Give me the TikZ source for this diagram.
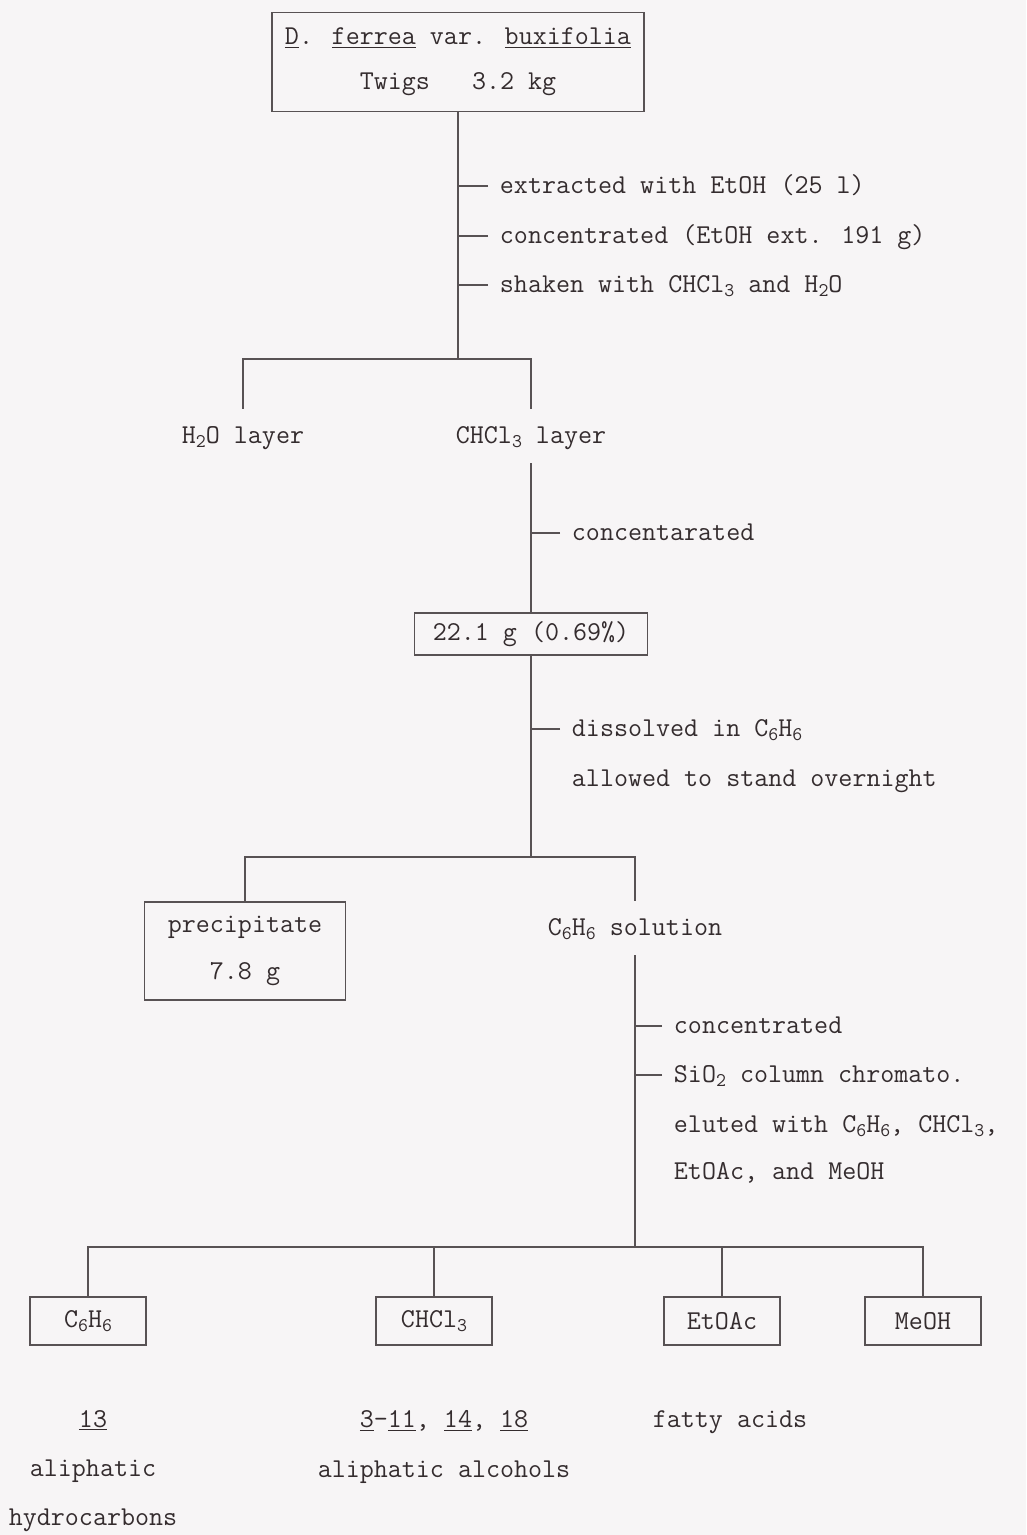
\documentclass[tikz,border=0pt]{standalone}
\usepackage{fontspec}
\usetikzlibrary{calc,positioning}
\definecolor{FlowInk}{RGB}{52,44,46}
\definecolor{FlowLine}{RGB}{88,82,84}
\definecolor{FlowPaper}{RGB}{247,245,246}
\newcommand{\chemsub}[1]{\raisebox{-0.35ex}{\fontsize{11}{11}\selectfont #1}}

\begin{document}
\begin{tikzpicture}[x=0.2mm, y=-0.2mm,
    every node/.style={font=\ttfamily\fontsize{15.5}{18}\selectfont, text=FlowInk},
    line/.style={draw=FlowLine, line width=0.8pt},
    box/.style={line, inner sep=0pt, align=center},
    tag/.style={inner sep=0pt, text height=11pt, text depth=3pt, outer ysep=8.5pt},
    steptext/.style={anchor=west, inner sep=0pt, outer xsep=6.8pt, text height=11pt, text depth=3pt}]
    \fill[FlowPaper] (0,0) rectangle (1026,1535);
    \useasboundingbox (0,0) rectangle (1026,1535);

    % plant material
    \node[box, minimum width=74.4mm, minimum height=19.8mm, font=\ttfamily\fontsize{15.5}{25.6}\selectfont] (src) at (458,62)
        {\underline{D}. \underline{ferrea} var. \underline{buxifolia}\\Twigs~~~3.2 kg};
    \node[steptext] (s1) at (488,186) {extracted with EtOH (25 l)};
    \node[steptext] (s2) at (488,236) {concentrated (EtOH ext. 191 g)};
    \node[steptext] (s3) at (488,285) {shaken with CHCl\chemsub{3} and H\chemsub{2}O};
    \foreach \s in {s1,s2,s3} \draw[line] (\s.west) -- (\s.west -| src.south);

    \coordinate (j1) at (458,359);
    \node[tag] (h2o) at (243,436) {H\chemsub{2}O layer};
    \node[tag] (chl) at (531,436) {CHCl\chemsub{3} layer};
    \draw[line] (src.south) -- (j1);
    \draw[line] (h2o.north) |- (j1) -| (chl.north);

    % chloroform extract
    \node[steptext] (s4) at (560,533) {concentarated};
    \node[box, minimum width=46.6mm, minimum height=8.4mm] (crude) at (531,634) {22.1 g (0.69\%)};
    \draw[line] (chl.south) -- (crude.north);
    \draw[line] (s4.west) -- (s4.west -| chl.south);

    \node[steptext] (s5) at (560,729) {dissolved in C\chemsub{6}H\chemsub{6}};
    \node[steptext] (s6) at (560,779) {allowed to stand overnight};
    \draw[line] (s5.west) -- (s5.west -| crude.south);

    \coordinate (j2) at (531,857);
    \node[box, minimum width=40.2mm, minimum height=19.6mm, font=\ttfamily\fontsize{15.5}{26.8}\selectfont] (prec) at (245,951)
        {precipitate\\7.8 g};
    \node[tag] (sol) at (635,928) {C\chemsub{6}H\chemsub{6} solution};
    \draw[line] (crude.south) -- (j2);
    \draw[line] (prec.north) |- (j2) -| (sol.north);

    % column chromatography
    \node[steptext] (s7) at (662,1026) {concentrated};
    \node[steptext] (s8) at (662,1075) {SiO\chemsub{2} column chromato.};
    \node[steptext] (s9) at (662,1125) {eluted with C\chemsub{6}H\chemsub{6}, CHCl\chemsub{3},};
    \node[steptext] (s10) at (662,1172) {EtOAc, and MeOH};
    \foreach \s in {s7,s8} \draw[line] (\s.west) -- (\s.west -| sol.south);

    \coordinate (j3) at (635,1247);
    \draw[line] (sol.south) -- (j3);
    \node[box, minimum width=23.2mm, minimum height=9.6mm] (fb) at (88,1321) {C\chemsub{6}H\chemsub{6}};
    \node[box, minimum width=23.2mm, minimum height=9.6mm] (fc) at (434,1321) {CHCl\chemsub{3}};
    \node[box, minimum width=23.2mm, minimum height=9.6mm] (fe) at (722,1321) {EtOAc};
    \node[box, minimum width=23.2mm, minimum height=9.6mm] (fm) at (923,1321) {MeOH};
    \draw[line] (fb.north) |- (j3) -| (fm.north);
    \draw[line] (fc.north) -- (fc.north |- j3);
    \draw[line] (fe.north) -- (fe.north |- j3);

    % products
    \node[align=center, font=\ttfamily\fontsize{15.5}{28.1}\selectfont] (pb) at (93,1471)
        {\underline{13}\\aliphatic\\hydrocarbons};
    \node[align=center, font=\ttfamily\fontsize{15.5}{28.1}\selectfont] (pc) at (444,1447)
        {\underline{3}\textendash\underline{11}, \underline{14}, \underline{18}\\aliphatic alcohols};
    \node (pe) at (730,1422) {fatty acids};
\end{tikzpicture}
\end{document}
